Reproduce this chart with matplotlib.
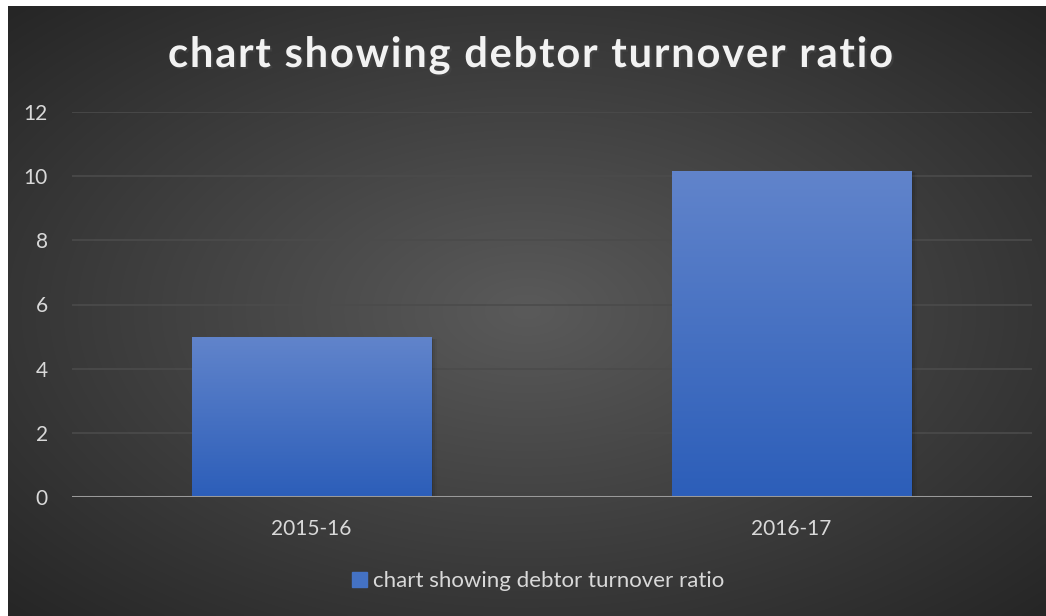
import numpy as np
import matplotlib
matplotlib.use("Agg")
import matplotlib.pyplot as plt
from matplotlib.patches import Rectangle
import matplotlib.patheffects as pe

# debtor turnover ratio by year
years = ["2015-16", "2016-17"]
ratios = [4.98, 10.16]
series_name = "chart showing debtor turnover ratio"
chart_title = "chart showing debtor turnover ratio"
y_ticks = [0, 2, 4, 6, 8, 10, 12]

W, H = 1046, 616
fig = plt.figure(figsize=(W / 100, H / 100), dpi=100, facecolor="white")
plt.rcParams["font.family"] = ["Lato", "DejaVu Sans"]

# dark radial background (chart area leaves a thin white edge top and left)
bg = fig.add_axes([8 / W, 0, (W - 8) / W, (H - 6) / H])
bg.set_axis_off()
gx, gy = np.meshgrid(np.linspace(-1, 1, 400), np.linspace(-1, 1, 240))
r = np.clip(np.sqrt((gx * 0.95) ** 2 + (gy * 0.95) ** 2) / 1.34, 0, 1)
c0, c1 = np.array([0x5a, 0x5a, 0x5a]) / 255, np.array([0x26, 0x26, 0x26]) / 255
img = c0[None, None, :] * (1 - r[..., None]) + c1[None, None, :] * r[..., None]
bg.imshow(img, extent=[0, 1, 0, 1], aspect="auto", interpolation="bilinear")
bg.set_xlim(0, 1)
bg.set_ylim(0, 1)

ax = fig.add_axes([71.5 / W, (H - 497) / H, 960 / W, 385 / H])
ax.patch.set_alpha(0)
x = np.arange(len(years))
bars = ax.bar(x, ratios, width=0.5, color="none", zorder=3)

# vertical gradient fill + soft shadow on each bar
grad = np.linspace(0, 1, 256)[:, None]
top_c = np.array([0x61, 0x84, 0xcb]) / 255
bot_c = np.array([0x2c, 0x5e, 0xb9]) / 255
for b in bars:
    x0, w, h = b.get_x(), b.get_width(), b.get_height()
    for k, a in enumerate([0.10, 0.07, 0.04]):
        ax.add_patch(Rectangle((x0 + 0.004 * (k + 1), -0.02 * (k + 1)), w, h,
                               color="black", alpha=a, lw=0, zorder=2))
    g = top_c[None, None, :] * (1 - grad[..., None]) + bot_c[None, None, :] * grad[..., None]
    im = ax.imshow(g, extent=[x0, x0 + w, 0, h], aspect="auto", zorder=3,
                   interpolation="bilinear")
    im.set_clip_path(b)

ax.set_xlim(-0.5, 1.5)
ax.set_ylim(0, 12)
ax.set_yticks(y_ticks)
ax.set_xticks(x)
ax.set_xticklabels(years)
ax.grid(axis="y", color="#4b4b4b", lw=1.2, zorder=1)
ax.axhline(0, color="#9a9a9a", lw=2.2, zorder=4)
for s in ax.spines.values():
    s.set_visible(False)
ax.tick_params(length=0, colors="#d9d9d9", labelsize=15)
ax.tick_params(axis="y", pad=17)
ax.tick_params(axis="x", pad=16)

# legend
leg = fig.legend([Rectangle((0, 0), 1, 1, color="#4472c4")], [series_name],
                 loc="center", bbox_to_anchor=(538 / W, (H - 581) / H), frameon=False,
                 fontsize=16, handlelength=0.68, handleheight=0.68, handletextpad=0.25,
                 labelcolor="#d9d9d9")

# letter-spaced bold title
renderer = fig.canvas.get_renderer()
tsize = 30
def text_w(s):
    t = fig.text(0, 0, s, fontsize=tsize, fontweight="bold")
    w = t.get_window_extent(renderer).width
    t.remove()
    return w
bar_w = text_w("|")
natural = text_w(chart_title + "|") - bar_w
spacing = (725 - natural) / (len(chart_title) - 1)
start = 530.5 - 725 / 2
for i, ch in enumerate(chart_title):
    if ch == " ":
        continue
    px = start + text_w(chart_title[:i] + "|") - bar_w + i * spacing
    fig.text(px / W, (H - 67) / H, ch, fontsize=tsize, fontweight="bold",
             color="#f2f2f2", ha="left", va="baseline",
             path_effects=[pe.SimplePatchShadow(offset=(1.5, -1.5), alpha=0.5), pe.Normal()])

fig.savefig("out.png", dpi=100, facecolor="white")
